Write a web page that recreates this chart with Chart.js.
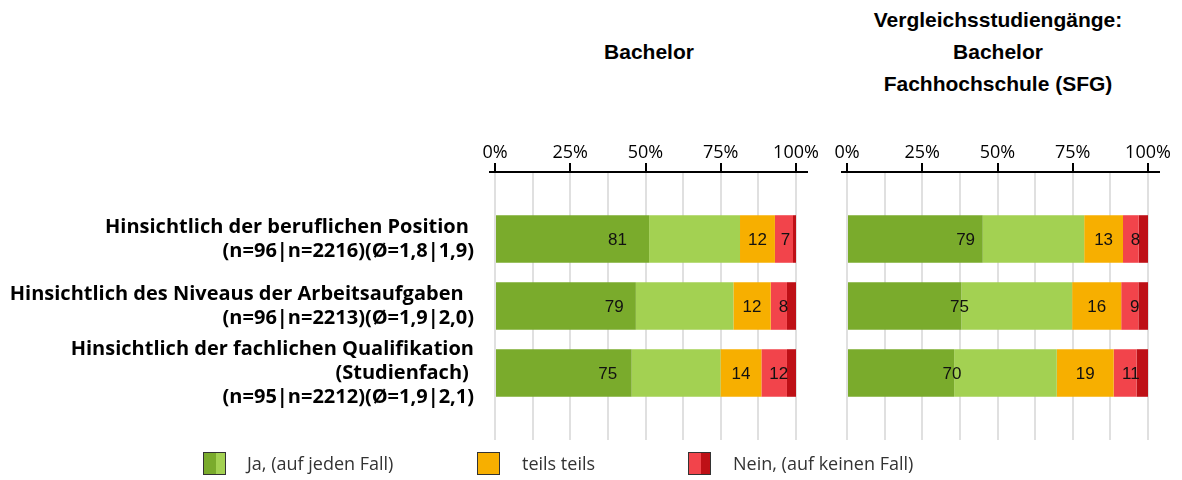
<!DOCTYPE html>
<html>
<head>
<meta charset="utf-8">
<script src="https://cdn.jsdelivr.net/npm/chart.js@4/dist/chart.umd.min.js"></script>
<style>
body { margin: 0; background: #fff; }
#wrap { position: relative; width: 1182px; height: 480px; overflow: hidden; }
.title { position: absolute; font: bold 21px "Liberation Sans", Arial, sans-serif; line-height: 32px; text-align: center; color: #000; white-space: nowrap; }
canvas { position: absolute; top: 0; }
.box { position: absolute; top: 452px; width: 23px; height: 23px; border: 1px solid #333; box-sizing: border-box; }
.legtxt { position: absolute; top: 451px; line-height: 24px; font: 18px "Open Sans", sans-serif; color: #333; white-space: nowrap; }
</style>
</head>
<body>
<div id="wrap">
  <div class="title" style="left:549px;width:200px;top:36px;">Bachelor</div>
  <div class="title" style="left:848px;width:300px;top:4px;">Vergleichsstudiengänge:<br>Bachelor<br>Fachhochschule (SFG)</div>
  <canvas id="left" width="820" height="480" style="left:0"></canvas>
  <canvas id="right" width="352" height="480" style="left:830px"></canvas>

  <div class="box" style="left:203px;background:linear-gradient(90deg,#7aab2c 55%,#a3d152 55%);"></div>
  <div class="legtxt" style="left:247px;">Ja, (auf jeden Fall)</div>
  <div class="box" style="left:477px;background:#f7af00;"></div>
  <div class="legtxt" style="left:522px;">teils teils</div>
  <div class="box" style="left:688px;background:linear-gradient(90deg,#f2444b 55%,#be1016 55%);"></div>
  <div class="legtxt" style="left:733px;">Nein, (auf keinen Fall)</div>
</div>
<script>
// questions (y axis)
const categories = [
    ['Hinsichtlich der beruflichen Position ', '(n=96|n=2216)(Ø=1,8|1,9)'],
    ['Hinsichtlich des Niveaus der Arbeitsaufgaben  ', '(n=96|n=2213)(Ø=1,9|2,0)'],
    ['Hinsichtlich der fachlichen Qualifikation', '(Studienfach) ', '(n=95|n=2212)(Ø=1,9|2,1)']
];
const xTicks = [0, 25, 50, 75, 100];

// Bachelor (percent per answer step)
const baJa1 = [51.2, 46.8, 45.4];
const baJa2 = [30.2, 32.4, 29.5];
const baTeils = [11.6, 12.4, 13.6];
const baNein2 = [6.0, 5.4, 8.5];
const baNein1 = [1.0, 3.0, 3.0];

// Vergleichsstudiengaenge Bachelor FH
const vgJa1 = [45.1, 38.0, 35.6];
const vgJa2 = [33.7, 36.8, 34.1];
const vgTeils = [12.9, 16.3, 18.9];
const vgNein2 = [5.2, 5.7, 7.6];
const vgNein1 = [3.1, 3.2, 3.8];

const colors = ['#7aab2c', '#a3d152', '#f7af00', '#f2444b', '#be1016'];

// empty slot above and below, so bars sit like in the original
function pad(arr) { return [null, ...arr, null]; }

// top axis line, a bit longer than the plot area
const axisLine = {
    id: 'axisLine',
    afterDraw(chart) {
        const ctx = chart.ctx, a = chart.chartArea;
        ctx.save();
        ctx.strokeStyle = '#000';
        ctx.lineWidth = 2;
        ctx.beginPath();
        ctx.moveTo(a.left - 6, a.top);
        ctx.lineTo(a.right + 12, a.top);
        ctx.stroke();
        ctx.restore();
    }
};

// sums of the green, orange and red parts written into the bars
const valueLabels = {
    id: 'valueLabels',
    afterDatasetsDraw(chart) {
        const ctx = chart.ctx;
        const x = chart.scales.x, y = chart.scales.y;
        const ds = chart.data.datasets.map(d => d.data);
        ctx.save();
        ctx.font = '17px "Liberation Sans", Arial, sans-serif';
        ctx.fillStyle = '#111';
        ctx.textAlign = 'center';
        ctx.textBaseline = 'middle';
        for (let i = 1; i < ds[0].length - 1; i++) {
            const groups = [[ds[0][i], ds[1][i]], [ds[2][i]], [ds[3][i], ds[4][i]]];
            let start = 0;
            groups.forEach(g => {
                const sum = g.reduce((s, v) => s + v, 0);
                const px = (x.getPixelForValue(start) + x.getPixelForValue(start + sum)) / 2;
                ctx.fillText(Math.round(sum), px, y.getPixelForValue(i) + 1);
                start += sum;
            });
        }
        ctx.restore();
    }
};

function makeChart(id, sets, showLabels, padLeft, padRight) {
    return new Chart(document.getElementById(id), {
        type: 'bar',
        data: {
            labels: pad(categories),
            datasets: sets.map((s, k) => ({
                data: pad(s),
                backgroundColor: colors[k],
                borderWidth: 0,
                categoryPercentage: 1,
                barPercentage: 0.71
            }))
        },
        options: {
            indexAxis: 'y',
            responsive: false,
            animation: false,
            events: [],
            layout: { padding: { left: padLeft, right: padRight, top: 0, bottom: 40 } },
            plugins: { legend: { display: false }, tooltip: { enabled: false } },
            scales: {
                x: {
                    type: 'linear',
                    position: 'top',
                    stacked: true,
                    min: 0,
                    max: 100,
                    afterFit(s) { s.height = 172; },
                    border: { display: false },
                    grid: {
                        color: '#e0e0e0',
                        lineWidth: 2,
                        tickLength: 9,
                        tickWidth: 2,
                        tickColor: c => xTicks.includes(c.tick.value) ? '#000' : 'rgba(0,0,0,0)'
                    },
                    ticks: {
                        stepSize: 12.5,
                        autoSkip: false,
                        maxRotation: 0,
                        padding: -1,
                        color: '#000',
                        font: { family: '"Open Sans", sans-serif', size: 18 },
                        callback: v => xTicks.includes(v) ? v + '%' : ''
                    }
                },
                y: {
                    type: 'category',
                    stacked: true,
                    offset: false,
                    display: showLabels,
                    afterFit(s) {
                        if (showLabels) s.width = 495;
                        s.paddingTop = 0;
                        s.paddingBottom = 0;
                    },
                    border: { display: false },
                    grid: { display: false, drawTicks: false },
                    ticks: {
                        autoSkip: false,
                        padding: 21,
                        color: '#000',
                        font: { family: '"Open Sans", sans-serif', size: 20, weight: 'bold', lineHeight: 1.2 }
                    }
                }
            }
        },
        plugins: [axisLine, valueLabels]
    });
}

makeChart('left', [baJa1, baJa2, baTeils, baNein2, baNein1], true, 0, 24);
makeChart('right', [vgJa1, vgJa2, vgTeils, vgNein2, vgNein1], false, 17, 34);
</script>
</body>
</html>
